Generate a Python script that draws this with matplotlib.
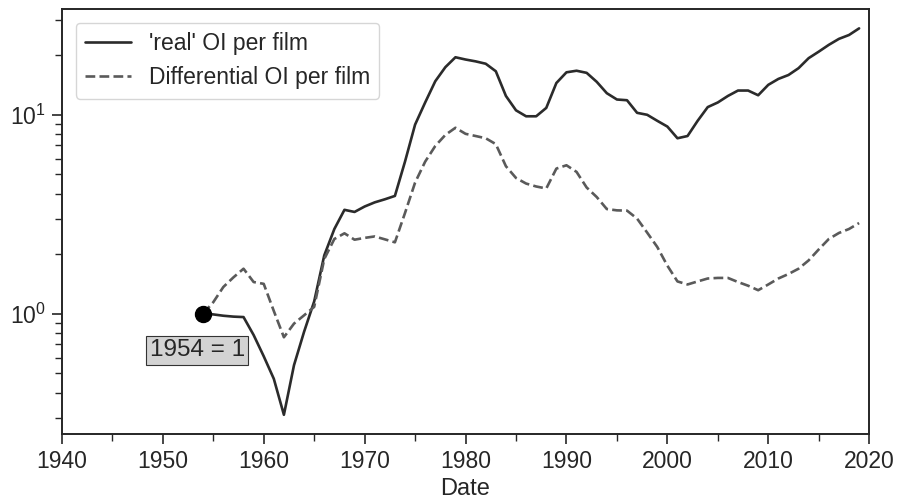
import matplotlib
matplotlib.use("Agg")
import matplotlib.pyplot as plt
import numpy as np
import seaborn as sns

sns.set_style("ticks")
plt.rcParams['font.family'] = ['Liberation Sans', 'DejaVu Sans']

years = list(range(1954, 2020))

# 'real' OI per film, 1954 = 1
real_oi = [1.00, 0.99, 0.975, 0.965, 0.96, 0.78, 0.61, 0.47, 0.31, 0.55,
           0.81, 1.15, 1.96, 2.66, 3.32, 3.24, 3.45, 3.62, 3.75, 3.9,
           5.8, 8.9, 11.5, 14.7, 17.3, 19.4, 18.9, 18.5, 18.0, 16.5,
           12.4, 10.5, 9.8, 9.8, 10.8, 14.4, 16.3, 16.6, 16.2, 14.6,
           12.8, 11.9, 11.8, 10.2, 9.97, 9.3, 8.7, 7.6, 7.8, 9.3,
           10.9, 11.5, 12.4, 13.2, 13.2, 12.5, 14.1, 15.1, 15.8, 17.1,
           19.2, 20.7, 22.4, 24.0, 25.1, 27.1]

# Differential OI per film, 1954 = 1
diff_oi = [1.00, 1.14, 1.36, 1.52, 1.68, 1.44, 1.41, 1.03, 0.76, 0.89,
           0.98, 1.08, 1.88, 2.37, 2.53, 2.35, 2.40, 2.44, 2.36, 2.28,
           3.2, 4.55, 5.8, 6.95, 7.9, 8.58, 8.0, 7.8, 7.6, 7.1,
           5.5, 4.8, 4.5, 4.35, 4.25, 5.35, 5.56, 5.15, 4.3, 3.85,
           3.35, 3.3, 3.29, 3.0, 2.55, 2.16, 1.74, 1.45, 1.40, 1.45,
           1.50, 1.51, 1.51, 1.44, 1.38, 1.31, 1.40, 1.50, 1.58, 1.68,
           1.85, 2.1, 2.37, 2.54, 2.66, 2.85]

fig, ax = plt.subplots(figsize=(8.97, 5.03), dpi=100)
fig.subplots_adjust(left=0.069, right=0.969, top=0.982, bottom=0.137)

ax.plot(years, real_oi, color='#2b2b2b', lw=1.9, label="'real' OI per film")
ax.plot(years, diff_oi, color='#5a5a5a', lw=1.9, ls='--', label='Differential OI per film')
ax.plot([1954], [1], 'o', color='black', markersize=11.5)
ax.text(1953.4, 0.653, '1954 = 1', ha='center', va='center', fontsize=17.5,
        bbox=dict(boxstyle='square,pad=0.15', facecolor='lightgray', edgecolor='#333333', lw=0.8))

ax.set_yscale('log')
ax.set_xlim(1940, 2020)
ax.set_xticks(np.arange(1940, 2021, 10))
ax.set_xticks(np.arange(1945, 2020, 10), minor=True)
ax.set_xlabel('Date', fontsize=17, labelpad=3)
ax.tick_params(axis='both', which='major', labelsize=16.5, length=7.2, width=1.2, pad=4.5)
ax.tick_params(axis='both', which='minor', length=4.8, width=1.0)
for s in ax.spines.values():
    s.set_linewidth(1.4)

ax.legend(loc='upper left', fontsize=16.5, handlelength=2.0, borderaxespad=0.6)

fig.savefig('out.png', dpi=100)
